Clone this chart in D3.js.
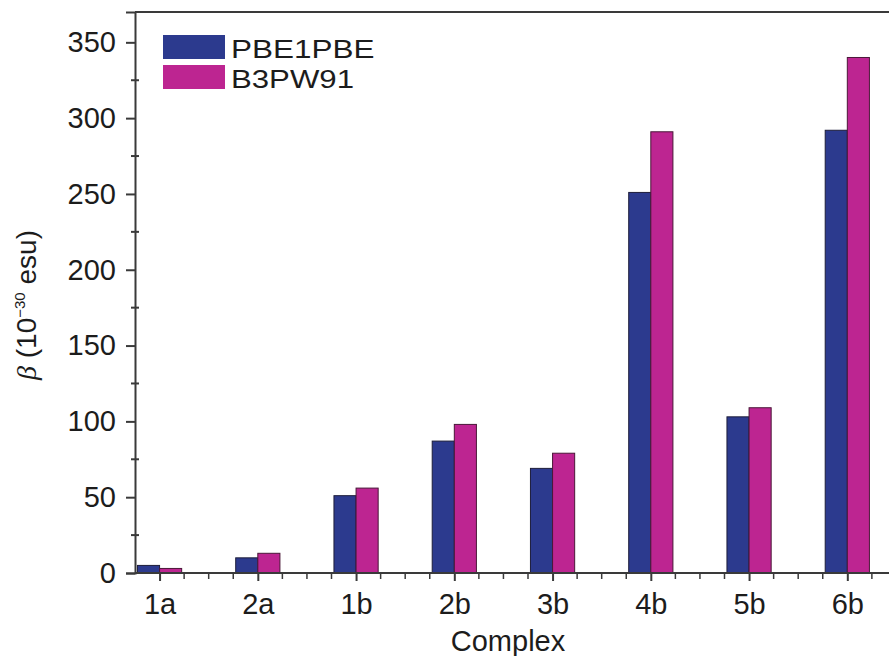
<!DOCTYPE html>
<html>
<head>
<meta charset="utf-8">
<script src="https://cdnjs.cloudflare.com/ajax/libs/d3/7.8.5/d3.min.js"></script>
<style>
  body { margin: 0; background: #fff; }
  text { font-family: "Liberation Sans", Arial, sans-serif; fill: #1c1c1c; }
</style>
</head>
<body>
<svg id="chart" width="889" height="656"></svg>
<script>
let width = 889, height = 656;

// data
let complexes = ["1a", "2a", "1b", "2b", "3b", "4b", "5b", "6b"];
let pbe1pbe = [5, 10, 51, 87, 69, 251, 103, 292];
let b3pw91 = [3, 13, 56, 98, 79, 291, 109, 340];
let seriesNames = ["PBE1PBE", "B3PW91"];
let yTicks = [0, 50, 100, 150, 200, 250, 300, 350];

let blue = "#2c3a8e", pink = "#bd2591", axisColor = "#3a3a3a";

let svg = d3.select("#chart");

// category i sits at x = i+1
let x = d3.scaleLinear().domain([0.75, 8.75]).range([135, 921]);
let y = d3.scaleLinear().domain([0, 370]).range([573, 12]);
let barW = 0.225;

// top frame line
svg.append("line")
    .attr("x1", x(0.75)).attr("x2", width)
    .attr("y1", y(370)).attr("y2", y(370))
    .attr("stroke", axisColor).attr("stroke-width", 2);

// bars
let rows = complexes.map((c, i) => ({ name: c, pos: i + 1, a: pbe1pbe[i], b: b3pw91[i] }));

svg.selectAll("rect.pbe")
    .data(rows).enter().append("rect")
    .attr("class", "pbe")
    .attr("x", d => x(d.pos - barW))
    .attr("width", d => x(d.pos) - x(d.pos - barW))
    .attr("y", d => y(d.a))
    .attr("height", d => y(0) - y(d.a))
    .attr("fill", blue)
    .attr("stroke", "#1d1d3a").attr("stroke-width", 1);

svg.selectAll("rect.b3")
    .data(rows).enter().append("rect")
    .attr("class", "b3")
    .attr("x", d => x(d.pos))
    .attr("width", d => x(d.pos + barW) - x(d.pos))
    .attr("y", d => y(d.b))
    .attr("height", d => y(0) - y(d.b))
    .attr("fill", pink)
    .attr("stroke", "#4a1838").attr("stroke-width", 1);

// y axis
let yAxis = svg.append("g")
    .attr("transform", "translate(" + x(0.75) + ",0)")
    .call(d3.axisLeft(y).tickValues(yTicks).tickSize(9).tickPadding(10));
yAxis.select(".domain").attr("stroke", axisColor).attr("stroke-width", 2);
yAxis.selectAll(".tick line").attr("stroke", axisColor).attr("stroke-width", 2);
yAxis.selectAll("text").style("font-size", "29px").attr("fill", "#1c1c1c");

// y minor ticks crossing the axis
let yMinor = d3.range(25, 370, 50);
svg.selectAll("line.yminor")
    .data(yMinor).enter().append("line")
    .attr("x1", x(0.75) - 4).attr("x2", x(0.75) + 4)
    .attr("y1", d => y(d)).attr("y2", d => y(d))
    .attr("stroke", axisColor).attr("stroke-width", 2);

// x axis
let xAxis = svg.append("g")
    .attr("transform", "translate(0," + y(0) + ")")
    .call(d3.axisBottom(x)
        .tickValues(rows.map(d => d.pos))
        .tickFormat((d, i) => complexes[i])
        .tickSize(8).tickPadding(12));
xAxis.select(".domain").attr("stroke", axisColor).attr("stroke-width", 2)
    .attr("d", "M" + x(0.75) + ",0H" + width);
xAxis.selectAll(".tick line").attr("stroke", axisColor).attr("stroke-width", 2);
xAxis.selectAll("text").style("font-size", "29px").attr("fill", "#1c1c1c");

// x minor ticks every quarter category
let xMinor = d3.range(1, 9.01, 0.25).filter(v => v % 1 !== 0);
svg.selectAll("line.xminor")
    .data(xMinor).enter().append("line")
    .attr("x1", d => x(d)).attr("x2", d => x(d))
    .attr("y1", y(0)).attr("y2", y(0) + 6)
    .attr("stroke", axisColor).attr("stroke-width", 1.5);

// axis titles
svg.append("text")
    .attr("x", 508)
    .attr("y", 651)
    .attr("text-anchor", "middle")
    .style("font-size", "29px")
    .text("Complex");

let yTitle = svg.append("text")
    .attr("transform", "translate(36,305) rotate(-90)")
    .attr("text-anchor", "middle")
    .style("font-size", "28px");
yTitle.append("tspan").style("font-style", "italic").style("font-family", "Liberation Serif, serif").text("β");
yTitle.append("tspan").text(" (10");
yTitle.append("tspan").attr("dy", -11).style("font-size", "15px").text("−30");
yTitle.append("tspan").attr("dy", 11).text(" esu)");

// legend
let legend = svg.append("g");
let legendColors = [blue, pink];
seriesNames.forEach(function(name, i) {
    legend.append("rect")
        .attr("x", 163).attr("y", 35 + i * 30)
        .attr("width", 62).attr("height", 24)
        .attr("fill", legendColors[i]);
    legend.append("text")
        .attr("x", 231).attr("y", 58 + i * 30)
        .style("font-size", "26px")
        .attr("textLength", name.length * 20.5)
        .attr("lengthAdjust", "spacingAndGlyphs")
        .text(name);
});
</script>
</body>
</html>
